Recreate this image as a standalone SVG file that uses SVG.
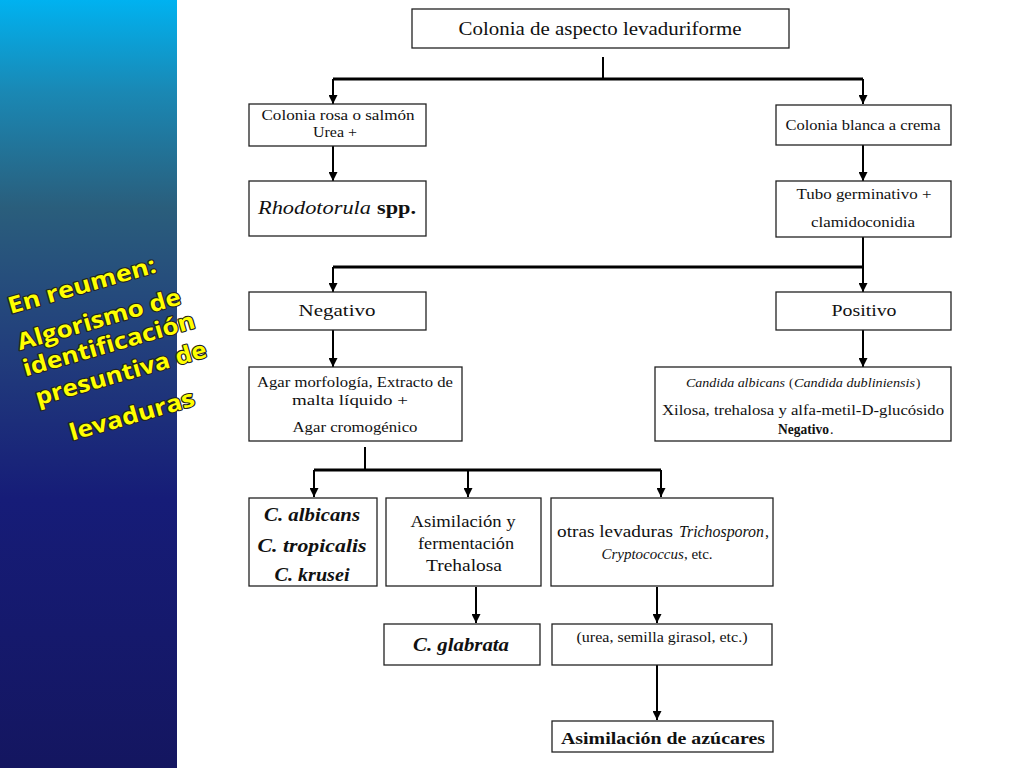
<svg xmlns="http://www.w3.org/2000/svg" width="1024" height="768" viewBox="0 0 1024 768">
<defs>
<linearGradient id="side" x1="0" y1="0" x2="0" y2="1">
<stop offset="0" stop-color="#00b2f0"/>
<stop offset="0.12" stop-color="#1a88b4"/>
<stop offset="0.27" stop-color="#2a5e7c"/>
<stop offset="0.45" stop-color="#223f7c"/>
<stop offset="0.65" stop-color="#161c78"/>
<stop offset="1" stop-color="#141660"/>
</linearGradient>
<marker id="arr" viewBox="0 0 10 10" refX="10" refY="5" markerWidth="9" markerHeight="9" markerUnits="userSpaceOnUse" orient="auto">
<path d="M0,0 L10,5 L0,10 z" fill="#000"/>
</marker>
</defs>
<style>
.box{fill:#fff;stroke:#222;stroke-width:1.3}
.t{font-family:"Liberation Serif",serif;fill:#111;text-anchor:middle}
.s{font-family:"Liberation Serif",serif;fill:#111;text-anchor:start}
.i{font-style:italic}
.b{font-weight:bold}
.c{fill:none;stroke:#000;stroke-width:2}
.bus{fill:none;stroke:#000;stroke-width:3}
.a{marker-end:url(#arr)}
.title{font-family:"Open Sans","DejaVu Sans",sans-serif;font-weight:bold;font-size:23px;fill:#ffff00;stroke:#222;stroke-width:2.2;paint-order:stroke;text-anchor:middle;stroke-linejoin:round}
</style>
<rect width="1024" height="768" fill="#fff"/>
<rect x="0" y="0" width="177" height="768" fill="url(#side)"/>
<g id="title">
<text class="title" x="84" y="293" transform="rotate(-16 84 293)" textLength="153" lengthAdjust="spacingAndGlyphs">En reumen:</text>
<text class="title" x="101" y="327" transform="rotate(-16 101 327)" textLength="169" lengthAdjust="spacingAndGlyphs">Algorismo de</text>
<text class="title" x="111" y="352" transform="rotate(-16 111 352)" textLength="178" lengthAdjust="spacingAndGlyphs">identificación</text>
<text class="title" x="123" y="381" transform="rotate(-16 123 381)" textLength="177" lengthAdjust="spacingAndGlyphs">presuntiva de</text>
<text class="title" x="134" y="423" transform="rotate(-16 134 423)" textLength="129" lengthAdjust="spacingAndGlyphs">levaduras</text>
</g>
<g id="connectors">
<path class="c" d="M603,57 V79"/>
<path class="bus" d="M333,79 H863"/>
<path class="c a" d="M333,79 V104"/>
<path class="c a" d="M863,79 V104"/>
<path class="c a" d="M333,146 V181"/>
<path class="c a" d="M863,145 V181"/>
<path class="c" d="M863,237 V267"/>
<path class="bus" d="M333,267 H863"/>
<path class="c a" d="M333,267 V292"/>
<path class="c a" d="M863,267 V292"/>
<path class="c a" d="M333,330 V367"/>
<path class="c a" d="M863,330 V367"/>
<path class="c" d="M365,447 V470"/>
<path class="bus" d="M314,470 H661"/>
<path class="c a" d="M314,470 V497"/>
<path class="c a" d="M468,470 V497"/>
<path class="c a" d="M661,470 V497"/>
<path class="c a" d="M476,587 V623"/>
<path class="c a" d="M657,587 V623"/>
<path class="c a" d="M657,665 V720"/>
</g>
<g id="n-top">
<rect class="box" x="412" y="9" width="377" height="39"/>
<text class="t" x="600" y="35" font-size="18" textLength="283" lengthAdjust="spacingAndGlyphs">Colonia de aspecto levaduriforme</text>
</g>
<g id="n-rosa">
<rect class="box" x="249" y="104" width="177" height="42"/>
<text class="t" x="338" y="120" font-size="14" textLength="153" lengthAdjust="spacingAndGlyphs">Colonia rosa o salmón</text>
<text class="t" x="335" y="137" font-size="14" textLength="44" lengthAdjust="spacingAndGlyphs">Urea +</text>
</g>
<g id="n-rhodo">
<rect class="box" x="249" y="181" width="177" height="55"/>
<text class="s i" x="258" y="214" font-size="19" textLength="113" lengthAdjust="spacingAndGlyphs">Rhodotorula</text>
<text class="s b" x="377" y="214" font-size="19" textLength="39" lengthAdjust="spacingAndGlyphs">spp.</text>
</g>
<g id="n-blanca">
<rect class="box" x="776" y="105" width="175" height="40"/>
<text class="t" x="863" y="130" font-size="14" textLength="155" lengthAdjust="spacingAndGlyphs">Colonia blanca a crema</text>
</g>
<g id="n-tubo">
<rect class="box" x="776" y="181" width="175" height="56"/>
<text class="t" x="864" y="199" font-size="14" textLength="135" lengthAdjust="spacingAndGlyphs">Tubo germinativo +</text>
<text class="t" x="863" y="227" font-size="14" textLength="104" lengthAdjust="spacingAndGlyphs">clamidoconidia</text>
</g>
<g id="n-neg">
<rect class="box" x="249" y="292" width="177" height="38"/>
<text class="t" x="337" y="316" font-size="16" textLength="77" lengthAdjust="spacingAndGlyphs">Negativo</text>
</g>
<g id="n-pos">
<rect class="box" x="776" y="292" width="175" height="38"/>
<text class="t" x="864" y="316" font-size="16" textLength="65" lengthAdjust="spacingAndGlyphs">Positivo</text>
</g>
<g id="n-agar">
<rect class="box" x="249" y="367" width="213" height="74"/>
<text class="t" x="355" y="387" font-size="14" textLength="196" lengthAdjust="spacingAndGlyphs">Agar morfología, Extracto de</text>
<text class="t" x="350" y="405" font-size="14" textLength="116" lengthAdjust="spacingAndGlyphs">malta líquido +</text>
<text class="t" x="355" y="432" font-size="14" textLength="125" lengthAdjust="spacingAndGlyphs">Agar cromogénico</text>
</g>
<g id="n-candida">
<rect class="box" x="655" y="367" width="296" height="74"/>
<text class="s i" x="686" y="387" font-size="13" textLength="99" lengthAdjust="spacingAndGlyphs">Candida albicans</text>
<text class="s" x="789" y="387" font-size="13">(</text>
<text class="s i" x="794" y="387" font-size="13" textLength="121" lengthAdjust="spacingAndGlyphs">Candida dubliniensis</text>
<text class="s" x="916" y="387" font-size="13">)</text>
<text class="t" x="803" y="415" font-size="14" textLength="282" lengthAdjust="spacingAndGlyphs">Xilosa, trehalosa y alfa-metil-D-glucósido</text>
<text class="s b" x="778" y="434" font-size="14" textLength="51" lengthAdjust="spacingAndGlyphs">Negativo</text>
<text class="s" x="830" y="434" font-size="14">.</text>
</g>
<g id="n-species">
<rect class="box" x="249" y="498" width="128" height="88"/>
<text class="t b i" x="312" y="521" font-size="18" textLength="96" lengthAdjust="spacingAndGlyphs">C. albicans</text>
<text class="t b i" x="312" y="552" font-size="18" textLength="109" lengthAdjust="spacingAndGlyphs">C. tropicalis</text>
<text class="t b i" x="312" y="581" font-size="18" textLength="75" lengthAdjust="spacingAndGlyphs">C. krusei</text>
</g>
<g id="n-trehalosa">
<rect class="box" x="386" y="498" width="155" height="88"/>
<text class="t" x="463" y="527" font-size="16" textLength="105" lengthAdjust="spacingAndGlyphs">Asimilación y</text>
<text class="t" x="466" y="549" font-size="16" textLength="96" lengthAdjust="spacingAndGlyphs">fermentación</text>
<text class="t" x="464" y="571" font-size="16" textLength="76" lengthAdjust="spacingAndGlyphs">Trehalosa</text>
</g>
<g id="n-otras">
<rect class="box" x="551" y="498" width="222" height="88"/>
<text class="s" x="557" y="537" font-size="16" textLength="116" lengthAdjust="spacingAndGlyphs">otras levaduras</text>
<text class="s i" x="679" y="537" font-size="16" textLength="85" lengthAdjust="spacingAndGlyphs">Trichosporon</text>
<text class="s" x="765" y="537" font-size="16">,</text>
<text class="t" x="657" y="559" font-size="15"><tspan class="i">Cryptococcus</tspan>, etc.</text>
</g>
<g id="n-glabrata">
<rect class="box" x="384" y="624" width="156" height="41"/>
<text class="t b i" x="461" y="651" font-size="19" textLength="96" lengthAdjust="spacingAndGlyphs">C. glabrata</text>
</g>
<g id="n-urea">
<rect class="box" x="552" y="624" width="220" height="41"/>
<text class="t" x="662" y="642" font-size="14" textLength="171" lengthAdjust="spacingAndGlyphs">(urea, semilla girasol, etc.)</text>
</g>
<g id="n-azucares">
<rect class="box" x="552" y="721" width="221" height="31"/>
<text class="t b" x="663" y="744" font-size="17" textLength="204" lengthAdjust="spacingAndGlyphs">Asimilación de azúcares</text>
</g>
</svg>
